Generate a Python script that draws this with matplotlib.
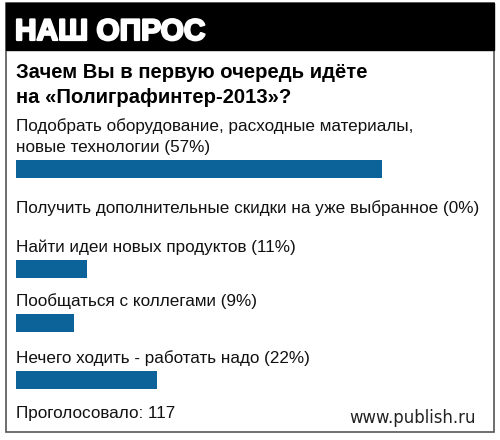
import matplotlib.pyplot as plt
from matplotlib.patches import Rectangle
import matplotlib.patheffects as pe

header = "НАШ ОПРОС"
question = "Зачем Вы в первую очередь идёте\nна «Полиграфинтер-2013»?"
answers = [
    "Подобрать оборудование, расходные материалы,\nновые технологии",
    "Получить дополнительные скидки на уже выбранное",
    "Найти идеи новых продуктов",
    "Пообщаться с коллегами",
    "Нечего ходить - работать надо",
]
percents = [57, 0, 11, 9, 22]
votes = 117
site = "www.publish.ru"

plt.rcParams['font.family'] = ['Liberation Sans', 'DejaVu Sans']

W, H = 500, 440
fig = plt.figure(figsize=(W / 100, H / 100), dpi=100)

# overlay in pixel coordinates for frame and texts
ov = fig.add_axes([0, 0, 1, 1])
ov.set_xlim(0, W)
ov.set_ylim(H, 0)
ov.axis('off')

ov.add_patch(Rectangle((5.5, 3.5), 488.5, 428.5, facecolor='white',
                       edgecolor='#555555', lw=1.2))
ov.add_patch(Rectangle((5.5, 3.5), 488.5, 47, facecolor='black', edgecolor='black', lw=1))
ov.text(15, 40, header, color='white', fontsize=21.5, fontweight='bold', va='baseline',
        path_effects=[pe.withStroke(linewidth=1.6, foreground='white')])

ov.text(16, 78, question.split("\n")[0], fontsize=14.6, fontweight='bold', va='baseline')
ov.text(16, 103, question.split("\n")[1], fontsize=14.6, fontweight='bold', va='baseline')

# bar axes: x in percent, y in pixels
px_per_pct = 6.42
bx = fig.add_axes([16 / W, 0, (W - 16) / W, 1], zorder=2)
bx.set_xlim(0, (W - 16) / px_per_pct)
bx.set_ylim(H, 0)
bx.axis('off')

label_base = [131, 213, 252, 306, 363]
line_gap = 21
bar_gap = 17
bar_h = 18
for i, (txt, p) in enumerate(zip(answers, percents)):
    lines = (txt + " (%d%%)" % p).split("\n")
    for j, ln in enumerate(lines):
        ov.text(16, label_base[i] + j * line_gap, ln, fontsize=12.3, va='baseline', color='#111111')
    if p > 0:
        yc = label_base[i] + (len(lines) - 1) * line_gap + bar_gap
        bx.barh(yc, p, height=bar_h, left=0, color='#0b6399', align='center')

ov.text(16, 418, "Проголосовало: %d" % votes, fontsize=12.3, va='baseline', color='#111111')
ov.text(476, 423, site, fontsize=11.9, va='baseline', ha='right', color='#222222',
        family=['DejaVu Sans'])

fig.savefig("out.png", dpi=100)
